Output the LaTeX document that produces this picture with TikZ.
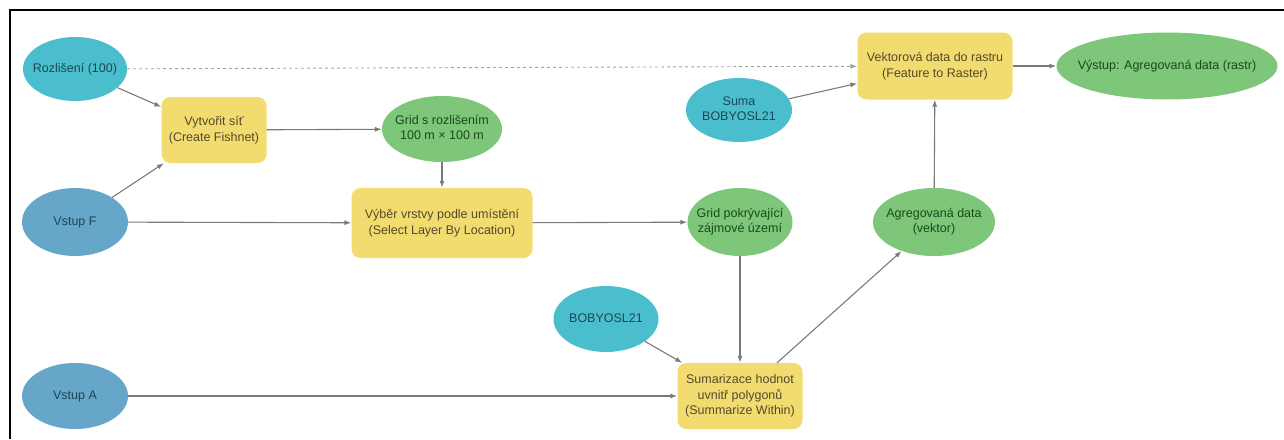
\documentclass[tikz,border=0pt]{standalone}
\usepackage{fontspec}
\setmainfont{Liberation Sans}
\usetikzlibrary{shapes.geometric,arrows.meta}

\definecolor{cian}{HTML}{4BBECE}
\definecolor{azul}{HTML}{66A6C9}
\definecolor{verde}{HTML}{7DC67A}
\definecolor{amarillo}{HTML}{F2DC70}
\definecolor{textoazul}{HTML}{1D4656}
\definecolor{textoverde}{HTML}{1B4A1B}
\definecolor{textoamar}{HTML}{54492C}
\definecolor{linea}{HTML}{7A7A7A}

% texto de ancho cero, para que la elipse no crezca
\newcommand{\etiq}[1]{\makebox[0pt]{\begin{tabular}{@{}c@{}}#1\end{tabular}}}

\begin{document}
\begin{tikzpicture}[x=1pt, y=-1pt,
    font=\fontsize{12.5}{15.5}\selectfont,
    elipse/.style={ellipse, inner sep=0pt, draw=none},
    param/.style={elipse, fill=cian, text=textoazul},
    entrada/.style={elipse, fill=azul, text=textoazul},
    salida/.style={elipse, fill=verde, text=textoverde},
    herram/.style={rectangle, rounded corners=9pt, fill=amarillo, text=textoamar,
      align=center, inner sep=1pt},
    flecha/.style={draw=linea, line width=1.1pt, -{Latex[length=7pt, width=5pt]}},
    ]
  \useasboundingbox (0, 0) rectangle (1284, 439);

  % Marco
  \draw[line width=1.4pt] (10, 439) -- (10, 10) -- (1284, 10);

  % Entradas
  \node[param, minimum width=104, minimum height=64] (roz) at (75, 69) {\etiq{Rozlišení (100)}};
  \node[entrada, minimum width=106, minimum height=68] (vstF) at (75, 222) {\etiq{Vstup F}};
  \node[entrada, minimum width=106, minimum height=66] (vstA) at (75, 396) {\etiq{Vstup A}};
  \node[param, minimum width=105, minimum height=66] (bob) at (606, 319) {\etiq{BOBYOSL21}};
  \node[param, minimum width=106, minimum height=64] (suma) at (739, 110) {\etiq{Suma\\BOBYOSL21}};

  % Herramientas
  \node[herram, minimum width=105, minimum height=66] (fish) at (214, 130) {Vytvořit síť\\(Create Fishnet)};
  \node[herram, minimum width=181, minimum height=70] (vyber) at (442, 223) {Výběr vrstvy podle umístění\\(Select Layer By Location)};
  \node[herram, minimum width=125, minimum height=66] (sumar) at (740, 396) {Sumarizace hodnot\\uvnitř polygonů\\(Summarize Within)};
  \node[herram, minimum width=155, minimum height=67] (vekt) at (935, 66) {Vektorová data do rastru\\(Feature to Raster)};

  % Resultados
  \node[salida, minimum width=120, minimum height=66] (grid) at (442, 129) {\etiq{Grid s rozlišením\\100 m × 100 m}};
  \node[salida, minimum width=105, minimum height=68] (gridz) at (740, 222) {\etiq{Grid pokrývající\\zájmové území}};
  \node[salida, minimum width=122, minimum height=68] (agr) at (934, 222) {\etiq{Agregovaná data\\(vektor)}};
  \node[salida, minimum width=221, minimum height=67] (vyst) at (1167, 66) {\etiq{Výstup: Agregovaná data (rastr)}};

  % Conexiones
  \draw[flecha, draw=linea!70, line width=0.9pt, dashed] (roz) -- (vekt);
  \draw[flecha] (roz) -- (fish);
  \draw[flecha] (vstF) -- (fish);
  \draw[flecha] (fish) -- (grid);
  \draw[flecha] (grid) -- (vyber);
  \draw[flecha] (vstF) -- (vyber);
  \draw[flecha] (vyber) -- (gridz);
  \draw[flecha] (gridz) -- (sumar);
  \draw[flecha] (bob) -- (sumar);
  \draw[flecha] (vstA) -- (sumar);
  \draw[flecha] (sumar) -- (agr);
  \draw[flecha] (agr) -- (vekt);
  \draw[flecha] (suma) -- (vekt);
  \draw[flecha] (vekt) -- (vyst);
\end{tikzpicture}
\end{document}
